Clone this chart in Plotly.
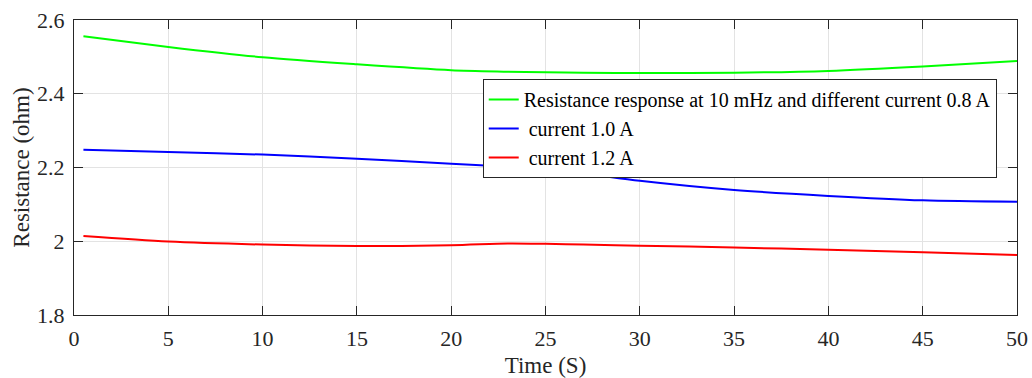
import plotly.graph_objects as go

time = [0.5, 5, 10, 15, 20, 23, 25, 27, 30, 35, 40, 45, 50]
r_08 = [2.556, 2.527, 2.499, 2.480, 2.464, 2.460, 2.458, 2.457, 2.456, 2.457, 2.462, 2.474, 2.489]
r_10 = [2.248, 2.242, 2.235, 2.224, 2.210, 2.202, 2.194, 2.184, 2.164, 2.139, 2.123, 2.111, 2.107]
r_12 = [2.014, 1.999, 1.991, 1.987, 1.989, 1.994, 1.993, 1.991, 1.988, 1.983, 1.977, 1.970, 1.963]

names = ["Resistance response at 10 mHz and different current 0.8 A", " current 1.0 A", " current 1.2 A"]
colors = ["#00ff00", "#0000ff", "#ff0000"]

fig = go.Figure()
for ys, nm, c in zip([r_08, r_10, r_12], names, colors):
    fig.add_trace(go.Scatter(x=time, y=ys, mode="lines", name=nm,
                             line=dict(color=c, width=2, shape="spline", smoothing=0.8)))

font = "Liberation Serif, Times New Roman, serif"
axis_common = dict(showline=True, linecolor="#262626", linewidth=1, mirror="ticks",
                   ticks="inside", ticklen=9, tickcolor="#262626",
                   showgrid=True, gridcolor="#e3e3e3", gridwidth=1, zeroline=False,
                   ticklabelstandoff=4, automargin=False,
                   tickfont=dict(family=font, size=22, color="#262626"))
fig.update_xaxes(range=[0, 50], dtick=5, title=dict(text="Time (S)", font=dict(family=font, size=23, color="#262626"), standoff=8), **axis_common)
fig.update_yaxes(range=[1.8, 2.6], tickvals=[1.8, 2.0, 2.2, 2.4, 2.6], ticktext=["1.8", "2", "2.2", "2.4", "2.6"],
                 title=dict(text="Resistance (ohm)", font=dict(family=font, size=23, color="#262626"), standoff=1), **axis_common)
fig.update_layout(width=1032, height=378, margin=dict(l=74, r=15, t=20, b=63),
                  plot_bgcolor="white", paper_bgcolor="white",
                  legend=dict(x=0.9785, y=0.8, xanchor="right", yanchor="top",
                              bgcolor="white", bordercolor="#262626", borderwidth=1,
                              font=dict(family=font, size=20, color="black"),
                              tracegroupgap=0, itemwidth=30))
fig.write_html("out.html")
